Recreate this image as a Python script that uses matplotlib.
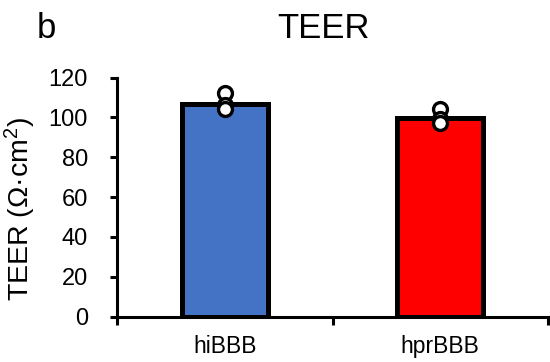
import matplotlib
matplotlib.use("Agg")
import matplotlib.pyplot as plt
import numpy as np

plt.rcParams['font.family'] = ['Liberation Sans', 'DejaVu Sans']
plt.rcParams['mathtext.fontset'] = 'custom'
plt.rcParams['mathtext.rm'] = 'Liberation Sans'
plt.rcParams['mathtext.it'] = 'Liberation Sans'

categories = ["hiBBB", "hprBBB"]
means = [106.5, 99.5]
points = [[112, 106, 104], [104, 99, 97]]
colors = ["#4472C4", "#FF0000"]
yticks = [0, 20, 40, 60, 80, 100, 120]

fig = plt.figure(figsize=(5.5, 3.62), dpi=100)
ax = fig.add_axes([117/550, 45.5/362, 431/550, 239/362])

x = np.arange(len(categories))
ax.bar(x, means, width=0.4, color=colors, edgecolor='black', linewidth=3.6, zorder=2)
for xi, pts in zip(x, points):
    ax.plot([xi]*len(pts), pts, 'o', markersize=10, markerfacecolor='white',
            markeredgecolor='black', markeredgewidth=2.4, zorder=3, clip_on=False)

ax.set_xlim(-0.5, 1.5)
ax.set_ylim(0, 120)
ax.set_yticks(yticks)
ax.set_xticks(x)
ax.set_xticklabels(categories, fontsize=16.5)
ax.set_xticks([-0.5, 0.5, 1.5], minor=True)
ax.tick_params(axis='x', which='major', length=0, pad=13)
ax.tick_params(axis='x', which='minor', length=6, width=2.2, direction='out')
ax.tick_params(axis='y', length=5, width=2.2, direction='out', pad=16, labelsize=17)
for s in ['top', 'right']:
    ax.spines[s].set_visible(False)
for s in ['left', 'bottom']:
    ax.spines[s].set_linewidth(2.2)

ax.set_ylabel("TEER (Ω·cm$^2$)", fontsize=20.5)
ax.yaxis.set_label_coords(-0.183, 0.45)

fig.text(324/550, 1 - 38/362, "TEER", fontsize=25, ha='center', va='baseline')
fig.text(37/550, 1 - 38/362, "b", fontsize=25, ha='left', va='baseline')

fig.savefig("out.png", dpi=100)
